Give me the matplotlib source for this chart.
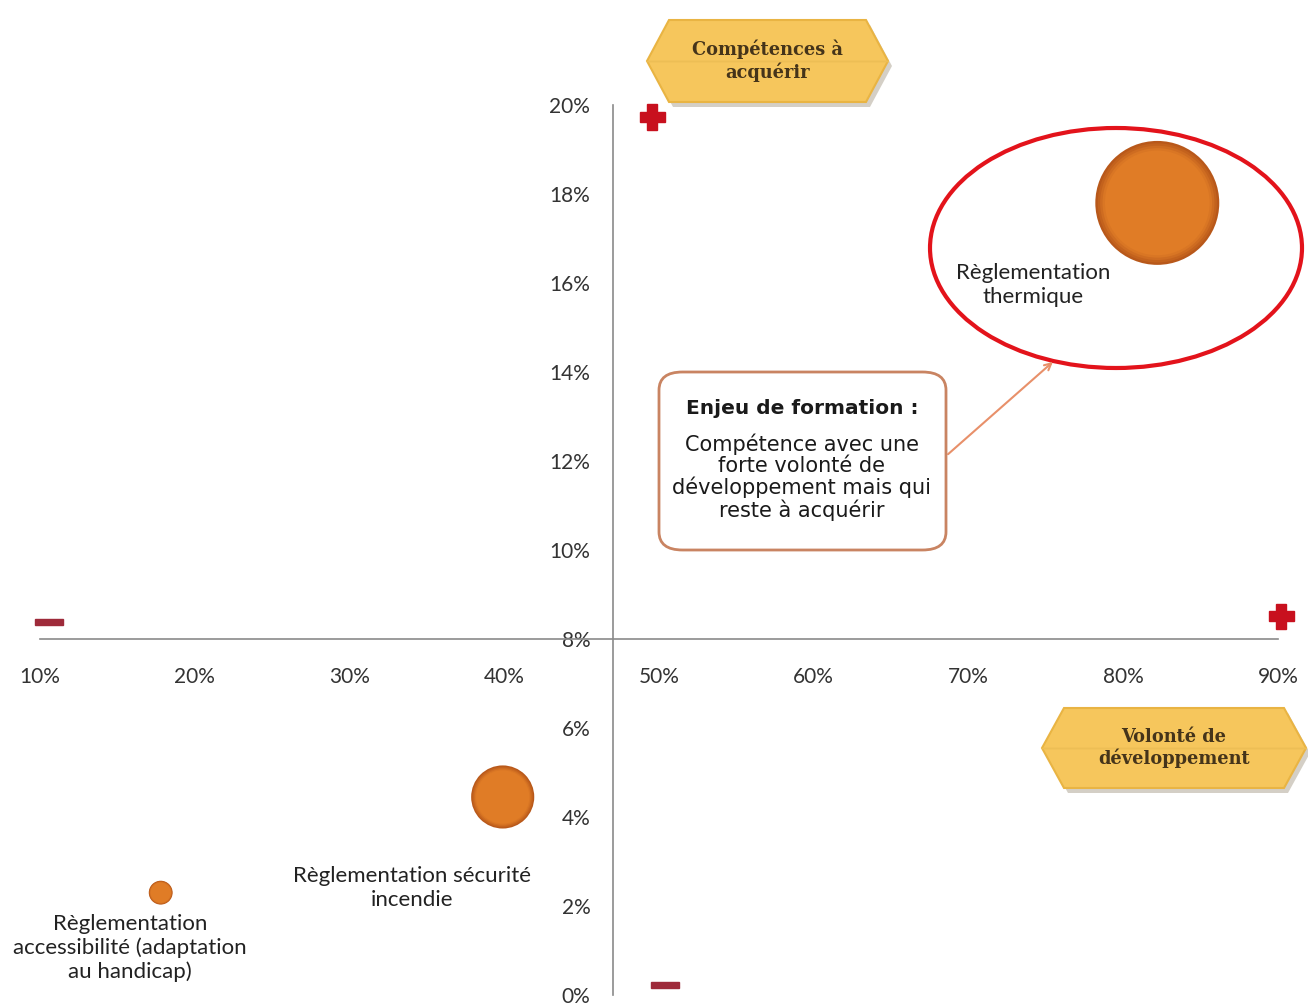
import numpy as np
import matplotlib
matplotlib.use("Agg")
import matplotlib.pyplot as plt
from matplotlib.colors import to_rgb
from matplotlib.patches import Polygon, Ellipse, FancyBboxPatch, Rectangle, FancyArrowPatch

# --- data ---------------------------------------------------------------
labels = ["Règlementation\nthermique",
          "Règlementation sécurité\nincendie",
          "Règlementation\naccessibilité (adaptation\nau handicap)"]
volonte = [82.2, 39.9, 17.8]          # x : volonté de développement (%)
competences = [17.8, 4.45, 2.3]       # y : compétences à acquérir (%)
bubble = [27, 7, 1]                   # relative bubble size

x_ticks = [10, 20, 30, 40, 50, 60, 70, 80, 90]
y_ticks = [0, 2, 4, 6, 8, 10, 12, 14, 16, 18, 20]
x_cross = 47   # where the vertical axis sits
y_cross = 8    # where the horizontal axis sits

W, H = 1308, 1006
fig = plt.figure(figsize=(W / 100, H / 100), dpi=100)


def fx(x):
    return x / W


def fy(y):
    return 1 - y / H


ax = fig.add_axes([fx(40), fy(995), (1278 - 40) / W, (995 - 105) / H])
ax.set_xlim(10, 90)
ax.set_ylim(0, 20)

for s in ["top", "right"]:
    ax.spines[s].set_visible(False)
ax.spines["left"].set_position(("data", x_cross))
ax.spines["bottom"].set_position(("data", y_cross))
for s in ["left", "bottom"]:
    ax.spines[s].set_color("#8a8a8a")
    ax.spines[s].set_linewidth(1.2)

ax.set_xticks(x_ticks)
ax.set_yticks(y_ticks)
ax.set_xticklabels([f"{v}%" for v in x_ticks])
ax.set_yticklabels([f"{v}%" for v in y_ticks])
ax.tick_params(axis="x", length=0, pad=20, labelsize=15, labelcolor="#333333")
ax.tick_params(axis="y", length=0, pad=16, labelsize=15, labelcolor="#333333")
for t in ax.get_xticklabels() + ax.get_yticklabels():
    t.set_family("Lato")

# bubbles: stacked discs, thin darker rim then flat orange (soft gradient)
sizes = np.array(bubble) * 295
rim, core = np.array(to_rgb("#B8581A")), np.array(to_rgb("#E07C26"))
n_layers = 10
for k in range(n_layers):
    f = k / (n_layers - 1)
    col = rim + (core - rim) * min(1, f * 2.5)
    scale = (1 - 0.35 * f) ** 2
    ax.scatter(volonte, competences, s=sizes * scale, color=col, linewidths=0,
               zorder=3 + k * 0.01, clip_on=False)

# bubble labels
label_pos = [(1033, 285), (412, 888), (130, 948)]
for lab, (px, py) in zip(labels, label_pos):
    fig.text(fx(px), fy(py), lab, ha="center", va="center", fontsize=16,
             family="Lato", color="#222222", linespacing=1.2)

# red ellipse around the key competence
fig.patches.append(Ellipse((fx(1116), fy(248)), 372 / W, 240 / H,
                           transform=fig.transFigure, fill=False,
                           edgecolor="#E3131B", linewidth=3))

# callout box
fig.patches.append(FancyBboxPatch((fx(659), fy(550)), (946 - 659) / W, (550 - 372) / H,
                                  boxstyle="round,pad=0,rounding_size=0.018",
                                  transform=fig.transFigure, facecolor="white",
                                  edgecolor="#C98462", linewidth=2, zorder=5))
fig.text(fx(802), fy(408), "Enjeu de formation :", ha="center", va="center",
         fontsize=14.5, fontweight="bold", family="DejaVu Sans", color="#1a1a1a", zorder=6)
fig.text(fx(802), fy(477), "Compétence avec une\nforte volonté de\ndéveloppement mais qui\nreste à acquérir",
         ha="center", va="center", fontsize=15, family="DejaVu Sans", color="#1a1a1a",
         linespacing=1.05, zorder=6)
fig.patches.append(FancyArrowPatch((fx(946), fy(456)), (fx(1055), fy(360)),
                                   transform=fig.transFigure, arrowstyle="->",
                                   mutation_scale=12, color="#E8906A", linewidth=1.5))


# golden banners
def banner(x0, x1, y0, y1, text):
    tip = 22
    ym = (y0 + y1) / 2
    pts = [(x0, ym), (x0 + tip, y0), (x1 - tip, y0), (x1, ym), (x1 - tip, y1), (x0 + tip, y1)]
    shadow = [(fx(x + 4), fy(y + 5)) for x, y in pts]
    fig.patches.append(Polygon(shadow, closed=True, transform=fig.transFigure,
                               facecolor="#B8B0A0", edgecolor="none", alpha=0.6))
    fig.patches.append(Polygon([(fx(x), fy(y)) for x, y in pts], closed=True,
                               transform=fig.transFigure, facecolor="#F6C65C",
                               edgecolor="#E9B443", linewidth=1.5))
    fig.patches.append(Polygon([(fx(x0 + tip), fy(ym)), (fx(x1 - tip), fy(ym)),
                                (fx(x1), fy(ym)), (fx(x0), fy(ym))], closed=True,
                               transform=fig.transFigure, edgecolor="#EDBE55",
                               linewidth=1, fill=False))
    fig.text(fx((x0 + x1) / 2), fy(ym), text, ha="center", va="center", fontsize=12.8,
             fontweight="bold", family="DejaVu Serif", color="#45341A", linespacing=1.2)


banner(647, 888, 20, 102, "Compétences à\nacquérir")
banner(1042, 1306, 708, 788, "Volonté de\ndéveloppement")


# plus / minus marks
def plus(cx, cy):
    arm, th = 12.5, 5
    fig.patches.append(Rectangle((fx(cx - arm), fy(cy + th)), 2 * arm / W, 2 * th / H,
                                 transform=fig.transFigure, color="#C8101E"))
    fig.patches.append(Rectangle((fx(cx - th), fy(cy + arm)), 2 * th / W, 2 * arm / H,
                                 transform=fig.transFigure, color="#C8101E"))


def minus(cx, cy):
    fig.patches.append(Rectangle((fx(cx - 14), fy(cy + 3)), 28 / W, 6 / H,
                                 transform=fig.transFigure, color="#9E2A3A"))


plus(652, 117)
plus(1281, 616)
minus(49, 622)
minus(665, 985)

fig.savefig("out.png", dpi=100, facecolor="white")
